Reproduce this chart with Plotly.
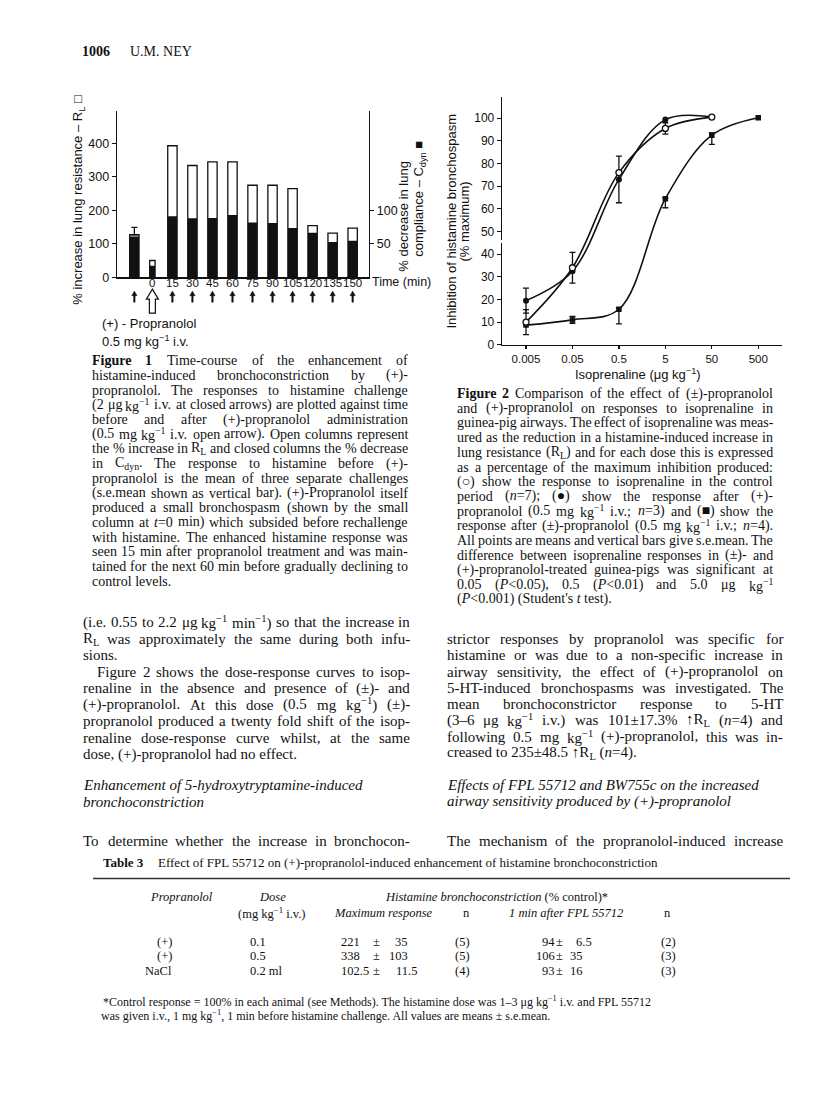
import re
import plotly.graph_objects as go

W, H = 816, 1113
SERIF = "Liberation Serif, Times New Roman, serif"
SANS = "Liberation Sans, Arial, sans-serif"
INK = "#111111"

# ---------------- Figure 1 data ----------------
fig1_times = [-13.5, 0, 15, 30, 45, 60, 75, 90, 105, 120, 135, 150]
fig1_rl_pct = [127, 50, 393, 334, 345, 345, 275, 275, 265, 154, 132, 147]
fig1_cdyn_pct = [61, 17, 91, 88, 88.5, 93, 82, 81, 73.5, 66.5, 52.5, 54.5]
fig1_pre_sem = 22
fig1_time_ticks = [0, 15, 30, 45, 60, 75, 90, 105, 120, 135, 150]
fig1_rl_ticks = [0, 100, 200, 300, 400]
fig1_cdyn_ticks = [50, 100]
fig1_propranolol_time = 0

# ---------------- Figure 2 data ----------------
iso_dose = [0.005, 0.05, 0.5, 5, 50, 500]
iso_dose_labels = ["0.005", "0.05", "0.5", "5", "50", "500"]
control_inh = [10, 34, 76, 95.5, 100.5]
control_sem = [5.5, 6.8, 0, 2.5, 0]
dplus_inh = [19.5, 32.5, 73, 99.4, 100.5]
dplus_sem = [5.5, 0, 10.3, 0, 0]
racemic_inh = [8.7, 11, 15.7, 64.5, 92.5, 100.2]
racemic_sem_plus = [0, 1.5, 0.7, 0.5, 1, 0]
racemic_sem_minus = [0, 1.5, 6.5, 4, 4, 0]
fig2_inh_ticks = [0, 10, 20, 30, 40, 50, 60, 70, 80, 90, 100]

# ---------------- Table 3 data ----------------
tbl_propranolol = ["(+)", "(+)", "NaCl"]
tbl_dose = ["0.1", "0.5", "0.2 ml"]
tbl_max_mean = ["221", "338", "102.5"]
tbl_max_sem = ["35", "103", "11.5"]
tbl_max_n = [5, 5, 4]
tbl_fpl_mean = ["94", "106", "93"]
tbl_fpl_sem = ["6.5", "35", "16"]
tbl_fpl_n = [2, 3, 3]


def px(x):
    return x / W


def py(y):
    return 1 - y / H


# ---------- text width estimate (Times metrics) ----------
TW = {' ': 250, '!': 333, '"': 408, '%': 833, '&': 778, "'": 333, '(': 333, ')': 333,
      '*': 500, '+': 564, ',': 250, '-': 333, '.': 250, '/': 278, ':': 278, ';': 278,
      '<': 564, '=': 564, '>': 564, '?': 444, '[': 333, ']': 333,
      'A': 722, 'B': 667, 'C': 667, 'D': 722, 'E': 611, 'F': 556, 'G': 722, 'H': 722,
      'I': 333, 'J': 389, 'K': 722, 'L': 611, 'M': 889, 'N': 722, 'O': 722, 'P': 556,
      'Q': 722, 'R': 667, 'S': 556, 'T': 611, 'U': 722, 'V': 722, 'W': 944, 'X': 722,
      'Y': 722, 'Z': 611, 'a': 444, 'b': 500, 'c': 444, 'd': 500, 'e': 444, 'f': 333,
      'g': 500, 'h': 500, 'i': 278, 'j': 278, 'k': 500, 'l': 278, 'm': 778, 'n': 500,
      'o': 500, 'p': 500, 'q': 500, 'r': 333, 's': 389, 't': 278, 'u': 500, 'v': 500,
      'w': 722, 'x': 500, 'y': 500, 'z': 444, '±': 564, '−': 564, '–': 500, 'μ': 500,
      '○': 604, '●': 604, '■': 604, '↑': 500, '’': 333}
ENT = {'&lt;': '<', '&gt;': '>', '&amp;': '&'}


def text_width(s, size):
    total = 0.0
    scale, bold = 1.0, False
    for tok in re.split(r'(</?(?:sup|sub|b|i)>|&[a-z]+;)', s):
        if not tok:
            continue
        if tok in ('<sup>', '<sub>'):
            scale = 0.7
            continue
        if tok in ('</sup>', '</sub>'):
            scale = 1.0
            continue
        if tok == '<b>':
            bold = True
            continue
        if tok == '</b>':
            bold = False
            continue
        if tok in ('<i>', '</i>'):
            continue
        if tok in ENT:
            tok = ENT[tok]
        for ch in tok:
            w = 500 if ch.isdigit() else TW.get(ch, 500)
            total += w * scale * (1.07 if bold else 1.0)
    return total * size / 1000.0


annotations = []


def ann(x, y, text, size, family=SERIF, xanchor='left', angle=0, color=INK):
    annotations.append(dict(x=px(x), y=py(y), xref='paper', yref='paper', text=text,
                            showarrow=False, xanchor=xanchor, yanchor='middle',
                            textangle=angle, borderpad=0, borderwidth=0,
                            font=dict(family=family, size=size, color=color)))


def line(text, x0, x1, y, size, justify=True, family=SERIF):
    words = [w for w in text.split(' ') if w]
    if not justify or len(words) < 2:
        ann(x0, y, text, size, family)
        return
    widths = [text_width(w, size) for w in words]
    gap = (x1 - x0 - sum(widths)) / (len(words) - 1)
    gap = max(gap, 0.18 * size)
    x = x0
    for w, wd in zip(words, widths):
        ann(x, y, w, size, family)
        x += wd + gap


def block(lines, x0, x1, y0, dy, size):
    for i, item in enumerate(lines):
        text, just, indent = item
        line(text, x0 + indent, x1, y0 + i * dy, size, just)


# ---------------- header ----------------
ann(82, 52, "<b>1006</b>", 14)
ann(130, 52, "U.M. NEY", 14)

# ---------------- captions ----------------
cap1 = [
    ("<b>Figure</b> <b>1</b> Time-course of the enhancement of", True, 0),
    ("histamine-induced bronchoconstriction by (+)-", True, 0),
    ("propranolol. The responses to histamine challenge", True, 0),
    ("(2 μg kg<sup>−1</sup> i.v. at closed arrows) are plotted against time", True, 0),
    ("before and after (+)-propranolol administration", True, 0),
    ("(0.5 mg kg<sup>−1</sup> i.v. open arrow). Open columns represent", True, 0),
    ("the % increase in R<sub>L</sub> and closed columns the % decrease", True, 0),
    ("in C<sub>dyn</sub>. The response to histamine before (+)-", True, 0),
    ("propranolol is the mean of three separate challenges", True, 0),
    ("(s.e.mean shown as vertical bar). (+)-Propranolol itself", True, 0),
    ("produced a small bronchospasm (shown by the small", True, 0),
    ("column at <i>t</i>=0 min) which subsided before rechallenge", True, 0),
    ("with histamine. The enhanced histamine response was", True, 0),
    ("seen 15 min after propranolol treatment and was main-", True, 0),
    ("tained for the next 60 min before gradually declining to", True, 0),
    ("control levels.", False, 0),
]
block(cap1, 92, 408, 363, 14.8, 14)

cap2 = [
    ("<b>Figure</b> <b>2</b> Comparison of the effect of (±)-propranolol", True, 0),
    ("and (+)-propranolol on responses to isoprenaline in", True, 0),
    ("guinea-pig airways. The effect of isoprenaline was meas-", True, 0),
    ("ured as the reduction in a histamine-induced increase in", True, 0),
    ("lung resistance (R<sub>L</sub>) and for each dose this is expressed", True, 0),
    ("as a percentage of the maximum inhibition produced:", True, 0),
    ("(○) show the response to isoprenaline in the control", True, 0),
    ("period (<i>n</i>=7); (●) show the response after (+)-", True, 0),
    ("propranolol (0.5 mg kg<sup>−1</sup> i.v.; <i>n</i>=3) and (■) show the", True, 0),
    ("response after (±)-propranolol (0.5 mg kg<sup>−1</sup> i.v.; <i>n</i>=4).", True, 0),
    ("All points are means and vertical bars give s.e.mean. The", True, 0),
    ("difference between isoprenaline responses in (±)- and", True, 0),
    ("(+)-propranolol-treated guinea-pigs was significant at", True, 0),
    ("0.05 (<i>P</i>&lt;0.05), 0.5 (<i>P</i>&lt;0.01) and 5.0 μg kg<sup>−1</sup>", True, 0),
    ("(<i>P</i>&lt;0.001) (Student's <i>t</i> test).", False, 0),
]
block(cap2, 457, 773, 396, 14.8, 14)

# ---------------- body text ----------------
body_left = [
    ("(i.e. 0.55 to 2.2 μg kg<sup>−1</sup> min<sup>−1</sup>) so that the increase in", True, 0),
    ("R<sub>L</sub> was approximately the same during both infu-", True, 0),
    ("sions.", False, 0),
    ("Figure 2 shows the dose-response curves to isop-", True, 14),
    ("renaline in the absence and presence of (±)- and", True, 0),
    ("(+)-propranolol. At this dose (0.5 mg kg<sup>−1</sup>) (±)-", True, 0),
    ("propranolol produced a twenty fold shift of the isop-", True, 0),
    ("renaline dose-response curve whilst, at the same", True, 0),
    ("dose, (+)-propranolol had no effect.", False, 0),
]
block(body_left, 83, 410, 626, 16.6, 15)
ann(83, 790, "<i>Enhancement of 5-hydroxytryptamine-induced</i>", 15)
ann(83, 807, "<i>bronchoconstriction</i>", 15)
line("To determine whether the increase in bronchocon-", 83, 410, 846, 15)

body_right = [
    ("strictor responses by propranolol was specific for", True, 0),
    ("histamine or was due to a non-specific increase in", True, 0),
    ("airway sensitivity, the effect of (+)-propranolol on", True, 0),
    ("5-HT-induced bronchospasms was investigated. The", True, 0),
    ("mean bronchoconstrictor response to 5-HT", True, 0),
    ("(3–6 μg kg<sup>−1</sup> i.v.) was 101±17.3% ↑R<sub>L</sub> (<i>n</i>=4) and", True, 0),
    ("following 0.5 mg kg<sup>−1</sup> (+)-propranolol, this was in-", True, 0),
    ("creased to 235±48.5 ↑R<sub>L</sub> (<i>n</i>=4).", False, 0),
]
block(body_right, 447, 783, 643, 16.4, 15)
ann(447, 790, "<i>Effects of FPL 55712 and BW755c on the increased</i>", 15)
ann(447, 807, "<i>airway sensitivity produced by (+)-propranolol</i>", 15)
line("The mechanism of the propranolol-induced increase", 447, 783, 846, 15)

# ---------------- Table 3 ----------------
ann(103, 868, "<b>Table 3</b>", 13)
ann(158, 868, "Effect of FPL 55712 on (+)-propranolol-induced enhancement of histamine bronchoconstriction", 13)
ann(181, 903, "<i>Propranolol</i>", 12.5, xanchor='center')
ann(272, 903, "<i>Dose</i>", 12.5, xanchor='center')
ann(497, 903, "<i>Histamine bronchoconstriction</i> (% control)*", 12.5, xanchor='center')
ann(272, 919, "(mg kg<sup>−1</sup> i.v.)", 12.5, xanchor='center')
ann(383, 919, "<i>Maximum response</i>", 12.5, xanchor='center')
ann(466, 919, "n", 12.5, xanchor='center')
ann(566, 919, "<i>1 min after FPL 55712</i>", 12.5, xanchor='center')
ann(667, 919, "n", 12.5, xanchor='center')
TS = 12.5
for i in range(len(tbl_propranolol)):
    yy = 948 + 14.5 * i
    ann(172, yy, tbl_propranolol[i], TS, xanchor='right')
    ann(250, yy, tbl_dose[i], TS)
    ip, _, fp = tbl_max_mean[i].partition('.')
    ann(360 + text_width(('.' + fp) if fp else '', TS), yy, tbl_max_mean[i], TS, xanchor='right')
    ann(376, yy, "±", TS, xanchor='center')
    ip, _, fp = tbl_max_sem[i].partition('.')
    ann(408 + text_width(('.' + fp) if fp else '', TS), yy, tbl_max_sem[i], TS, xanchor='right')
    ann(462, yy, "(%d)" % tbl_max_n[i], TS, xanchor='center')
    ann(555, yy, tbl_fpl_mean[i], TS, xanchor='right')
    ann(559, yy, "±", TS, xanchor='center')
    ip, _, fp = tbl_fpl_sem[i].partition('.')
    ann(583 + text_width(('.' + fp) if fp else '', TS), yy, tbl_fpl_sem[i], TS, xanchor='right')
    ann(668, yy, "(%d)" % tbl_fpl_n[i], TS, xanchor='center')
ann(103, 1007.5, "*Control response = 100% in each animal (see Methods). The histamine dose was 1–3 μg kg<sup>−1</sup> i.v. and FPL 55712", 12)
ann(101, 1021.5, "was given i.v., 1 mg kg<sup>−1</sup>, 1 min before histamine challenge. All values are means ± s.e.mean.", 12)

# ---------------- Figure 1 texts ----------------
ann(79, 201, "% increase in lung resistance – R<sub>L</sub> □", 13, SANS, xanchor='center', angle=-90)
ann(404, 218, "% decrease in lung", 13, SANS, xanchor='center', angle=-90)
ann(420, 200, "compliance – C<sub>dyn</sub> ■", 13, SANS, xanchor='center', angle=-90)
ann(372, 284, "Time (min)", 12.5, SANS)
ann(102, 326, "(+) - Propranolol", 13, SANS)
ann(102, 343, "0.5 mg kg<sup>−1</sup> i.v.", 13, SANS)
# time tick labels of Fig. 1, positioned through the x axis scale
for t in fig1_time_ticks:
    annotations.append(dict(x=t, y=py(284.5), xref='x', yref='paper', text=str(t),
                            showarrow=False, xanchor='center', yanchor='middle',
                            borderpad=0, borderwidth=0,
                            font=dict(family=SANS, size=11.5, color=INK)))

# ---------------- Figure 2 texts ----------------
ann(452, 223, "Inhibition of histamine bronchospasm", 13, SANS, xanchor='center', angle=-90)
ann(465, 223, "(% maximum)", 13, SANS, xanchor='center', angle=-90)
ann(638, 376, "Isoprenaline (μg kg<sup>−1</sup>)", 13, SANS, xanchor='center')

fig = go.Figure()

# ---------------- Figure 1 traces ----------------
bar_w = [4 if t == fig1_propranolol_time else 7 for t in fig1_times]
fig.add_trace(go.Bar(x=fig1_times, y=fig1_rl_pct, width=bar_w, xaxis='x', yaxis='y',
                     marker=dict(color='white', line=dict(color=INK, width=1.3))))
fig.add_trace(go.Scatter(x=[fig1_times[0]], y=[fig1_rl_pct[0]], mode='markers',
                         xaxis='x', yaxis='y', marker=dict(size=1, color='rgba(0,0,0,0)'),
                         error_y=dict(type='data', symmetric=False, array=[fig1_pre_sem],
                                      arrayminus=[0], width=3, thickness=1.3, color=INK)))
fig.add_trace(go.Bar(x=fig1_times, y=fig1_cdyn_pct, width=bar_w, xaxis='x', yaxis='y2',
                     marker=dict(color=INK, line=dict(width=0))))


# ---------------- Figure 2 traces ----------------
def err_trace(xs, ys, plus, minus):
    idx = [i for i in range(len(ys)) if plus[i] > 0 or minus[i] > 0]
    return go.Scatter(x=[xs[i] for i in idx], y=[ys[i] for i in idx], mode='markers',
                      xaxis='x2', yaxis='y3', marker=dict(size=1, color='rgba(0,0,0,0)'),
                      error_y=dict(type='data', symmetric=False,
                                   array=[plus[i] for i in idx],
                                   arrayminus=[minus[i] for i in idx],
                                   width=3, thickness=1.3, color=INK))


fig.add_trace(err_trace(iso_dose, racemic_inh, racemic_sem_plus, racemic_sem_minus))
fig.add_trace(err_trace(iso_dose, dplus_inh, dplus_sem, dplus_sem))
fig.add_trace(err_trace(iso_dose, control_inh, control_sem, control_sem))

fig.add_trace(go.Scatter(x=iso_dose, y=racemic_inh, mode='lines+markers', xaxis='x2', yaxis='y3',
                         line=dict(color=INK, width=1.6, shape='spline'),
                         marker=dict(symbol='square', size=5.5, color=INK)))
fig.add_trace(go.Scatter(x=iso_dose[:len(dplus_inh)], y=dplus_inh, mode='lines+markers',
                         xaxis='x2', yaxis='y3',
                         line=dict(color=INK, width=1.6, shape='spline'),
                         marker=dict(symbol='circle', size=6, color=INK)))
fig.add_trace(go.Scatter(x=iso_dose[:len(control_inh)], y=control_inh, mode='lines+markers',
                         xaxis='x2', yaxis='y3',
                         line=dict(color=INK, width=1.6, shape='spline'),
                         marker=dict(symbol='circle', size=6, color='white',
                                     line=dict(color=INK, width=1.3))))

# ---------------- shapes: arrows, breaks, rules ----------------
shapes = []
solid = "M-0.7,-11 L0.7,-11 L0.7,-4.5 L2.6,-4.5 L0,0 L-2.6,-4.5 L-0.7,-4.5 Z"
for t in fig1_times:
    if t == fig1_propranolol_time:
        continue
    shapes.append(dict(type='path', xref='x', yref='paper', xsizemode='pixel', ysizemode='pixel',
                       xanchor=t, yanchor=py(293), path=solid, fillcolor=INK,
                       line=dict(color=INK, width=0.6)))
hollow = "M0,0 L6,-10 L3,-10 L3,-24 L-3,-24 L-3,-10 L-6,-10 Z"
shapes.append(dict(type='path', xref='x', yref='paper', xsizemode='pixel', ysizemode='pixel',
                   xanchor=fig1_propranolol_time, yanchor=py(291), path=hollow,
                   fillcolor='white', line=dict(color=INK, width=1.2)))
# axis break on Fig. 2 ordinate
shapes.append(dict(type='rect', xref='paper', yref='paper', x0=px(499), x1=px(505),
                   y0=py(244.5), y1=py(241.5), fillcolor='white', line=dict(width=0)))
# table rule
shapes.append(dict(type='line', xref='paper', yref='paper', x0=px(93), x1=px(790),
                   y0=py(884), y1=py(884), line=dict(color='#333333', width=1.6)))

axis_common = dict(showgrid=False, zeroline=False, showline=True, linecolor=INK, linewidth=1.3,
                   tickcolor=INK, tickwidth=1.2, fixedrange=True)

fig.update_layout(
    width=W, height=H, margin=dict(l=0, r=0, t=0, b=0),
    paper_bgcolor='white', plot_bgcolor='rgba(0,0,0,0)', showlegend=False, barmode='overlay',
    xaxis=dict(domain=[px(117), px(369)], range=[-26.5, 162.25], anchor='y',
               showticklabels=False, ticks='', **axis_common),
    yaxis=dict(domain=[py(279), py(112)], range=[0, 496], anchor='x',
               tickmode='array', tickvals=fig1_rl_ticks, ticks='outside', ticklen=4,
               tickfont=dict(family=SANS, size=12.5, color=INK), **axis_common),
    yaxis2=dict(overlaying='y', side='right', anchor='x', range=[0, 248],
                tickmode='array', tickvals=fig1_cdyn_ticks, ticks='outside', ticklen=4,
                tickfont=dict(family=SANS, size=12.5, color=INK), **axis_common),
    xaxis2=dict(domain=[px(502), px(782)], type='log', range=[-2.818, 3.21], anchor='y3',
                tickmode='array', tickvals=iso_dose, ticktext=iso_dose_labels,
                ticks='outside', ticklen=3, tickangle=0,
                tickfont=dict(family=SANS, size=11.5, color=INK), **axis_common),
    yaxis3=dict(domain=[py(347), py(98)], range=[0, 109.2], anchor='x2',
                tickmode='array', tickvals=fig2_inh_ticks, ticks='outside', ticklen=4,
                tickfont=dict(family=SANS, size=12, color=INK), **axis_common),
    annotations=annotations,
    shapes=shapes,
    hovermode=False,
)

fig.write_html("out.html", config={'displayModeBar': False, 'staticPlot': True},
               post_script="document.body.style.margin='0';document.body.style.padding='0';")
